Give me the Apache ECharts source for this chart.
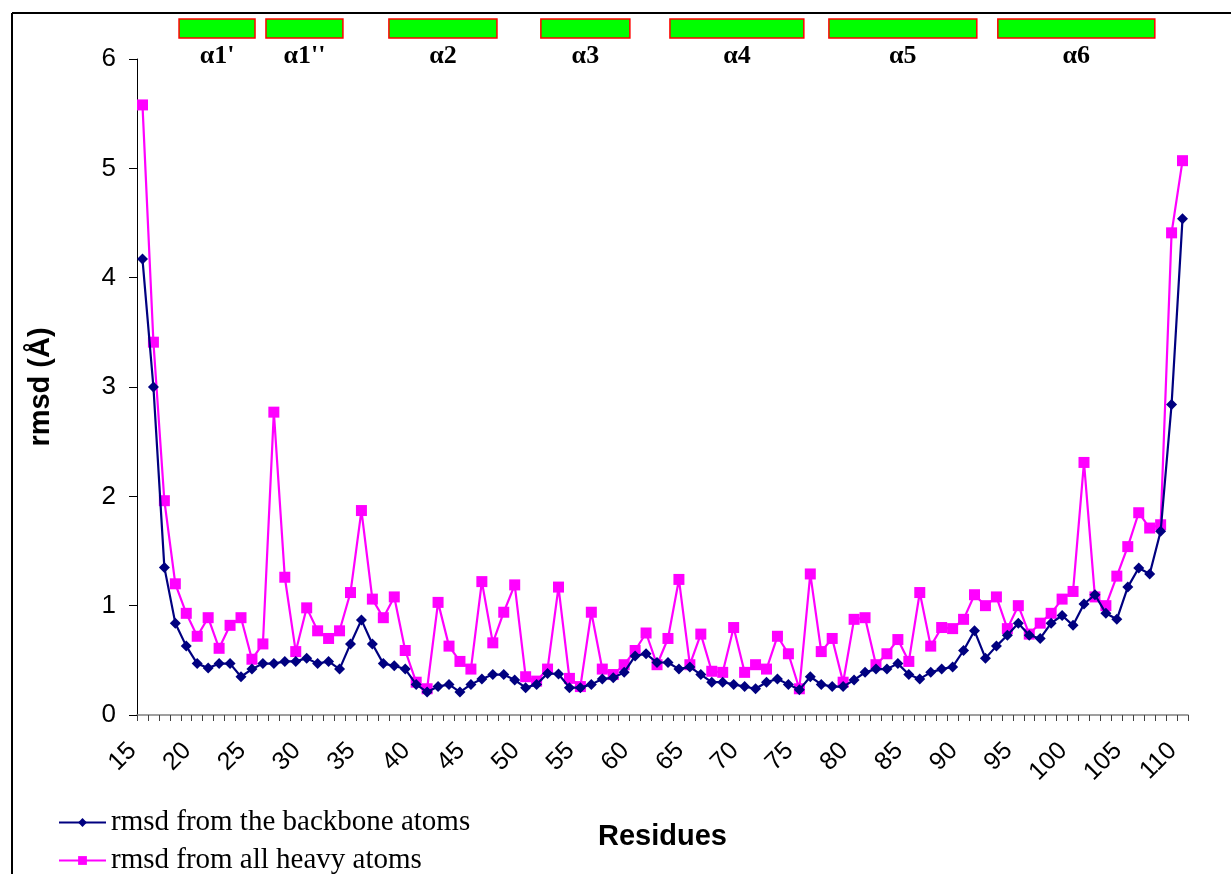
<!DOCTYPE html>
<html>
<head>
<meta charset="utf-8">
<script src="https://cdn.jsdelivr.net/npm/echarts@6/dist/echarts.min.js"></script>
<style>
html,body{margin:0;padding:0;background:#fff;}
#chart{width:1231px;height:874px;}
</style>
</head>
<body>
<div id="chart"></div>
<script>
const residues = ['15','16','17','18','19','20','21','22','23','24','25','26','27','28','29','30','31','32','33','34','35','36','37','38','39','40','41','42','43','44','45','46','47','48','49','50','51','52','53','54','55','56','57','58','59','60','61','62','63','64','65','66','67','68','69','70','71','72','73','74','75','76','77','78','79','80','81','82','83','84','85','86','87','88','89','90','91','92','93','94','95','96','97','98','99','100','101','102','103','104','105','106','107','108','109','110'];

const backbone = [4.17,3.00,1.35,0.84,0.63,0.47,0.43,0.47,0.47,0.35,
  0.42,0.47,0.47,0.49,0.49,0.52,0.47,0.49,0.42,0.65,
  0.87,0.65,0.47,0.45,0.42,0.28,0.21,0.26,0.28,0.21,
  0.28,0.33,0.37,0.37,0.32,0.25,0.28,0.38,0.375,0.25,
  0.25,0.28,0.33,0.34,0.39,0.54,0.56,0.48,0.48,0.42,
  0.44,0.37,0.30,0.30,0.28,0.26,0.24,0.30,0.33,0.28,
  0.23,0.35,0.28,0.26,0.26,0.32,0.39,0.42,0.42,0.47,
  0.37,0.33,0.39,0.42,0.44,0.59,0.77,0.52,0.63,0.73,
  0.84,0.73,0.70,0.84,0.91,0.82,1.015,1.10,0.93,0.875,
  1.17,1.345,1.29,1.68,2.84,4.54];

const heavy = [5.58,3.41,1.96,1.20,0.93,0.72,0.89,0.61,0.82,0.89,
  0.51,0.65,2.77,1.26,0.58,0.98,0.77,0.70,0.77,1.12,
  1.87,1.06,0.89,1.08,0.59,0.30,0.24,1.03,0.63,0.49,
  0.42,1.22,0.66,0.94,1.19,0.35,0.31,0.42,1.17,0.335,
  0.26,0.94,0.42,0.37,0.46,0.59,0.75,0.46,0.70,1.24,
  0.46,0.74,0.40,0.39,0.80,0.39,0.46,0.42,0.72,0.56,
  0.24,1.29,0.58,0.70,0.30,0.875,0.89,0.46,0.56,0.69,
  0.49,1.12,0.63,0.80,0.79,0.875,1.10,1.00,1.08,0.79,
  1.00,0.74,0.84,0.93,1.06,1.13,2.31,1.08,1.00,1.27,
  1.54,1.85,1.71,1.74,4.41,5.07];

const yTicks = [0,1,2,3,4,5,6];

// helix spans in residue units: [start, end, label]
const helixStart = [18.34, 26.28, 37.51, 51.39, 63.18, 77.70, 93.13];
const helixEnd   = [25.28, 33.31, 47.38, 59.52, 75.41, 91.21, 107.47];
const helixNames = ["α1'", "α1''", "α2", "α3", "α4", "α5", "α6"];

const seriesNames = ['rmsd from the backbone atoms', 'rmsd from all heavy atoms'];

const helixData = helixStart.map((s, i) => [s, helixEnd[i], helixNames[i]]);

const chart = echarts.init(document.getElementById('chart'), null, {renderer: 'canvas'});

const GL = 137, GR = 43;
const legendText = {fontFamily: '"Liberation Serif", "Times New Roman", serif', fontSize: 29, color: '#000'};

chart.setOption({
  animation: false,
  backgroundColor: '#ffffff',
  grid: [
    {left: GL, right: GR, top: 59, bottom: 159, containLabel: false},
    {left: GL, right: GR, top: 19, height: 19, containLabel: false}
  ],
  xAxis: [
    {
      type: 'category', gridIndex: 0, data: residues, boundaryGap: true,
      name: 'Residues', nameLocation: 'middle', nameGap: 107,
      nameTextStyle: {fontFamily: '"Liberation Sans", Arial, sans-serif', fontWeight: 'bold', fontSize: 29, color: '#000'},
      axisLine: {lineStyle: {color: '#808080', width: 1.5}},
      axisTick: {show: true, interval: 0, length: 6, lineStyle: {color: '#404040'}},
      axisLabel: {interval: 4, rotate: 45, margin: 22, padding: [0, 14, 0, 0],
        fontFamily: '"Liberation Sans", Arial, sans-serif', fontSize: 25, color: '#000'},
      splitLine: {show: false}
    },
    {type: 'value', gridIndex: 1, min: 14.5, max: 110.5, show: false}
  ],
  yAxis: [
    {
      type: 'value', gridIndex: 0, min: 0, max: 6, interval: 1,
      name: 'rmsd (Å)', nameLocation: 'middle', nameGap: 82,
      nameTextStyle: {fontFamily: '"Liberation Sans", Arial, sans-serif', fontWeight: 'bold', fontSize: 29, color: '#000'},
      axisLine: {show: true, lineStyle: {color: '#000', width: 1}},
      axisTick: {show: true, length: 8, lineStyle: {color: '#000'}},
      axisLabel: {margin: 21, fontFamily: '"Liberation Sans", Arial, sans-serif', fontSize: 26, color: '#000',
        formatter: v => yTicks.includes(v) ? String(v) : ''},
      splitLine: {show: false}
    },
    {type: 'value', gridIndex: 1, min: 0, max: 1, show: false}
  ],
  legend: [
    {left: 53, top: 803, itemWidth: 47, itemHeight: 11, itemGap: 6, textStyle: legendText, data: [seriesNames[0]]},
    {left: 53, top: 841, itemWidth: 47, itemHeight: 11, itemGap: 6, textStyle: legendText, data: [seriesNames[1]]}
  ],
  series: [
    {
      name: seriesNames[0], type: 'line', xAxisIndex: 0, yAxisIndex: 0, data: backbone,
      symbol: 'diamond', symbolSize: 11, showAllSymbol: true,
      lineStyle: {color: '#000080', width: 2.2}, itemStyle: {color: '#000080'}, z: 3
    },
    {
      name: seriesNames[1], type: 'line', xAxisIndex: 0, yAxisIndex: 0, data: heavy,
      symbol: 'rect', symbolSize: 11, showAllSymbol: true,
      lineStyle: {color: '#FF00FF', width: 2.2}, itemStyle: {color: '#FF00FF'}, z: 2
    },
    {
      type: 'custom', xAxisIndex: 1, yAxisIndex: 1, data: helixData, silent: true,
      renderItem: function (params, api) {
        const p0 = api.coord([api.value(0), 1]);
        const p1 = api.coord([api.value(1), 0]);
        const name = helixNames[params.dataIndex];
        return {
          type: 'group',
          children: [
            {type: 'rect', shape: {x: p0[0], y: p0[1], width: p1[0] - p0[0], height: p1[1] - p0[1]},
             style: {fill: '#00FF00', stroke: '#FF0000', lineWidth: 1.5}},
            {type: 'text', style: {text: name, x: (p0[0] + p1[0]) / 2, y: 56, align: 'center', verticalAlign: 'middle',
             font: 'bold 26px "Liberation Serif", "Times New Roman", serif', fill: '#000'}}
          ]
        };
      }
    }
  ],
  graphic: [
    {type: 'line', shape: {x1: 12, y1: 13, x2: 1231, y2: 13}, style: {stroke: '#000', lineWidth: 2}},
    {type: 'line', shape: {x1: 12, y1: 13, x2: 12, y2: 874}, style: {stroke: '#000', lineWidth: 2}}
  ]
});
</script>
</body>
</html>
